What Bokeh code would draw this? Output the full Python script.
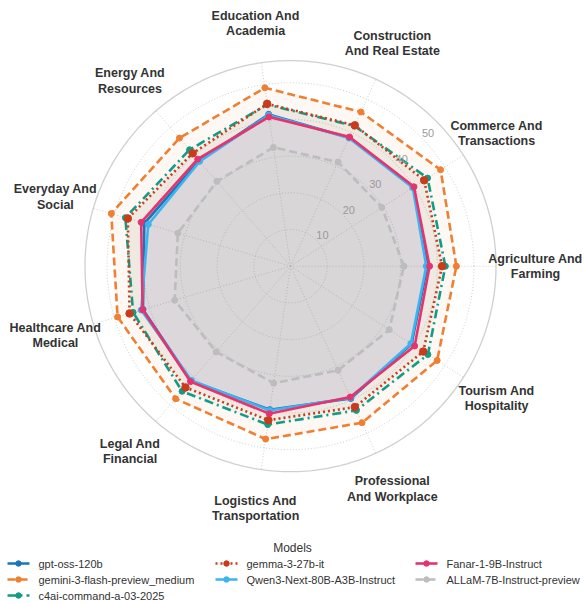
import numpy as np
from bokeh.plotting import figure
from bokeh.models import Range1d
from bokeh.embed import file_html
from bokeh.resources import INLINE
from bokeh.core.properties import value

# ---------------- data ----------------
categories = [
    "Agriculture And\nFarming",
    "Commerce And\nTransactions",
    "Construction\nAnd Real Estate",
    "Education And\nAcademia",
    "Energy And\nResources",
    "Everyday And\nSocial",
    "Healthcare And\nMedical",
    "Legal And\nFinancial",
    "Logistics And\nTransportation",
    "Professional\nAnd Workplace",
    "Tourism And\nHospitality",
]

models = [
    "gpt-oss-120b",
    "gemini-3-flash-preview_medium",
    "c4ai-command-a-03-2025",
    "gemma-3-27b-it",
    "Qwen3-Next-80B-A3B-Instruct",
    "Fanar-1-9B-Instruct",
    "ALLaM-7B-Instruct-preview",
]

gpt_oss_120b = [37.3, 39.8, 38.5, 41.8, 38.0, 41.5, 41.9, 41.4, 39.5, 39.6, 39.2]
gemini_3_flash = [45.2, 48.6, 46.2, 49.1, 46.2, 50.9, 49.1, 47.8, 47.6, 46.9, 47.5]
c4ai_command_a = [42.2, 44.4, 42.0, 44.5, 42.0, 46.9, 44.7, 45.1, 43.6, 43.2, 44.5]
gemma_3_27b = [41.3, 43.3, 42.2, 44.7, 40.7, 46.2, 45.7, 43.7, 42.4, 42.2, 43.0]
qwen3_next_80b = [37.0, 39.6, 38.4, 41.6, 37.8, 40.4, 42.4, 41.2, 39.7, 39.4, 39.0]
fanar_1_9b = [37.9, 40.0, 38.7, 41.1, 38.6, 42.4, 42.0, 41.6, 40.6, 39.2, 40.2]
allam_7b = [30.9, 29.6, 31.2, 32.7, 30.6, 32.0, 32.9, 30.9, 32.2, 31.2, 32.0]

series = [gpt_oss_120b, gemini_3_flash, c4ai_command_a, gemma_3_27b,
          qwen3_next_80b, fanar_1_9b, allam_7b]

radial_ticks = [10, 20, 30, 40, 50]
r_max = 56

# ---------------- styles ----------------
colors = ["#1b75bb", "#ef7f31", "#139b85", "#c83c1c", "#3cb4ef", "#e6336f", "#bdbdbd"]
dashes = ["solid", "8 4", "9 4 2 4", "2 3", "solid", "solid", "8 4"]
widths = [2.6, 2.6, 2.6, 2.6, 2.6, 2.6, 2.6]
msize = [6, 6, 6, 7.5, 6, 6, 6]
# legend slot (column, row) for each model
legend_slot = [(0, 0), (0, 1), (0, 2), (1, 0), (1, 1), (2, 0), (2, 1)]
FONT = "Liberation Sans"

W, H = 584, 603
CXP, CYP = 290.0, 265.7   # centre in picture pixels
S = 3.67                  # pixels per unit

p = figure(width=W, height=H, output_backend="svg", toolbar_location=None,
           x_axis_type=None, y_axis_type=None, min_border=0,
           x_range=Range1d(-CXP / S, (W - CXP) / S),
           y_range=Range1d((CYP - H) / S, CYP / S))
p.grid.visible = False
p.outline_line_color = None
p.background_fill_color = "white"
p.border_fill_color = "white"


def page(px, py):
    return (px - CXP) / S, (CYP - py) / S


N = len(categories)
theta = np.arange(N) * 2 * np.pi / N

# ---------------- grid ----------------
t = np.linspace(0, 2 * np.pi, 361)
for v in radial_ticks:
    p.line(v * np.cos(t), v * np.sin(t), line_color="#c9c9c9", line_width=0.9,
           line_dash="1 2")
p.line(r_max * np.cos(t), r_max * np.sin(t), line_color="#cfcfcf", line_width=1.3)
p.segment(x0=np.zeros(N), y0=np.zeros(N), x1=r_max * np.cos(theta),
          y1=r_max * np.sin(theta), line_color="#c9c9c9", line_width=0.9,
          line_dash="1 2")

# ---------------- series ----------------
for vals, c in zip(series, colors):
    r = np.array(vals)
    p.patch(r * np.cos(theta), r * np.sin(theta), fill_color=c, fill_alpha=0.05,
            line_color=None)

for vals, c, d, w, ms in zip(series, colors, dashes, widths, msize):
    r = np.array(vals)
    xs = r * np.cos(theta)
    ys = r * np.sin(theta)
    p.line(np.append(xs, xs[0]), np.append(ys, ys[0]), line_color=c,
           line_width=w, line_dash=d, line_join="miter")
    p.scatter(xs, ys, size=ms, fill_color=c, line_color=c)

# radial tick labels
ang = np.deg2rad(44)
tl = np.array(radial_ticks, dtype=float) + 2.1
p.text(tl * np.cos(ang), tl * np.sin(ang), text=[str(v) for v in radial_ticks],
       text_font=value(FONT), text_font_size="11px", text_color="#9a9a9a",
       text_align="center", text_baseline="middle")

# category labels
lr = 245 / S
p.text(lr * np.cos(theta), lr * np.sin(theta), text=categories,
       text_font=value(FONT), text_font_size="12.5px", text_font_style="bold",
       text_color="#333333", text_align="center", text_baseline="middle",
       text_line_height=1.1)

# ---------------- legend ----------------
tx, ty = page(292, 547)
p.text([tx], [ty], text=["Models"], text_font=value(FONT), text_font_size="12px",
       text_color="#333333", text_align="center", text_baseline="middle")

col_x = [7, 215, 415]
row_y = [563, 579, 595]
for name, c, d, ms, (col, row) in zip(models, colors, dashes, msize, legend_slot):
    x0, y0 = page(col_x[col], row_y[row])
    x1, _ = page(col_x[col] + 22, row_y[row])
    xt, _ = page(col_x[col] + 31, row_y[row])
    p.line([x0, x1], [y0, y0], line_color=c, line_width=2.6, line_dash=d)
    p.scatter([(x0 + x1) / 2], [y0], size=5.5, fill_color=c, line_color=c)
    p.text([xt], [y0], text=[name], text_font=value(FONT), text_font_size="11px",
           text_color="#333333", text_align="left", text_baseline="middle")

open("out.html", "w").write(file_html(p, INLINE))
